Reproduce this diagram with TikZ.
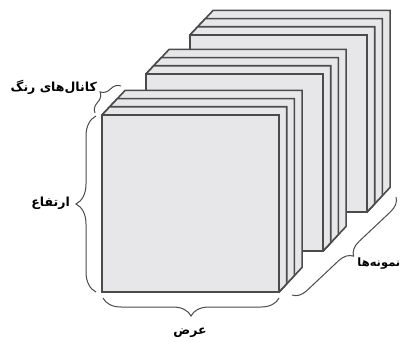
\documentclass[tikz,border=0pt]{standalone}
\usepackage{fontspec}
\usetikzlibrary{decorations.pathreplacing}
\TeXXeTstate=1
\newfontfamily\arabicfont[Script=Arabic]{DejaVu Sans}
\definecolor{slicefill}{RGB}{231,230,232}
\definecolor{sliceline}{RGB}{75,75,75}
\begin{document}
\begin{tikzpicture}[x=1pt,y=-1pt,
  slice/.style={fill=slicefill,draw=sliceline,line width=1.6pt,line join=miter},
  bracedeco/.style={draw=sliceline,line width=1pt,decorate,decoration={brace,amplitude=#1}},
  lbl/.style={font=\arabicfont\bfseries\fontsize{12.5}{15}\selectfont,inner sep=0pt}]
\useasboundingbox (0,0) rectangle (401,342);
\def\sq{177}
\foreach \gx/\gy in {190/35,146/74,102/115}{
  \foreach \k in {3,2,1,0}{
    \pgfmathsetmacro\px{\gx+7.7*\k}
    \pgfmathsetmacro\py{\gy-8.2*\k}
    \draw[slice] (\gx,\gy) -- (\px,\py) -- (\px+\sq,\py) -- (\px+\sq,\py+\sq)
      -- (\gx+\sq,\gy+\sq) -- (\gx,\gy+\sq) -- cycle;
  }
}
% brace end points
\coordinate (hb1) at (96,292);
\coordinate (hb2) at (96,116);
\coordinate (wb1) at (279,298);
\coordinate (wb2) at (103,298);
\coordinate (cb1) at (95,113);
\coordinate (cb2) at (121,86);
\coordinate (sb1) at (396,197);
\coordinate (sb2) at (292,295);
\draw[bracedeco=20] (hb1) -- (hb2);
\draw[bracedeco=18] (wb1) -- (wb2);
\draw[bracedeco=11] (cb1) -- (cb2);
\draw[bracedeco=14] (sb1) -- (sb2);
\node[lbl,anchor=east] (height) at (70,203) {\beginR ارتفاع\endR};
\node[lbl] (width) at (190,333) {\beginR عرض\endR};
\node[lbl,anchor=east] (channels) at (97,87) {\beginR کانال‌های رنگ\endR};
\node[lbl,anchor=east,font=\arabicfont\bfseries\fontsize{11.5}{14}\selectfont] (samples) at (400.5,264) {\beginR نمونه‌ها\endR};
\end{tikzpicture}
\end{document}
